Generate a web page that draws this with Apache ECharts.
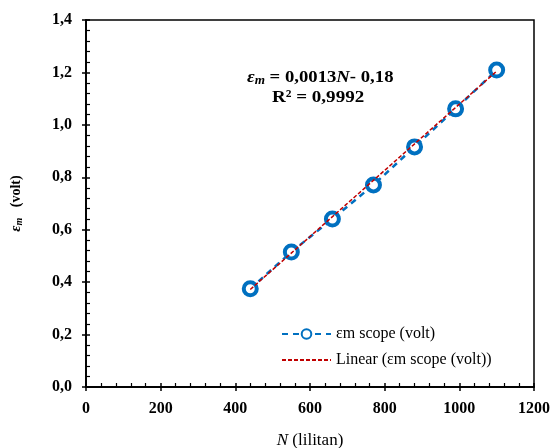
<!DOCTYPE html>
<html>
<head>
<meta charset="utf-8">
<script src="https://cdn.jsdelivr.net/npm/echarts@6/dist/echarts.min.js"></script>
<style>
  html, body { margin: 0; padding: 0; background: #fff; }
  #chart { width: 554px; height: 448px; }
</style>
</head>
<body>
<div id="chart"></div>
<script>
// data
var lilitan = [440, 550, 660, 770, 880, 990, 1100];
var emScope = [0.375, 0.515, 0.641, 0.771, 0.916, 1.061, 1.209];
var trendN = [440, 1100];
var trendV = [0.372, 1.205];
var yTicks = ["0,0", "0,2", "0,4", "0,6", "0,8", "1,0", "1,2", "1,4"];

var serif = "Liberation Serif";
var blue = "#0070c0";
var red = "#c00000";

var chart = echarts.init(document.getElementById("chart"));

var points = lilitan.map(function (n, i) { return [n, emScope[i]]; });
var trend = trendN.map(function (n, i) { return [n, trendV[i]]; });

var baseX = {
  type: "value",
  min: 0,
  max: 1200,
  interval: 200,
  position: "bottom",
  splitLine: { show: false },
  axisLine: { show: true, onZero: false, lineStyle: { color: "#000", width: 1.5 } },
};
var baseY = {
  type: "value",
  min: 0,
  max: 1.4,
  interval: 0.2,
  position: "left",
  splitLine: { show: false },
  axisLine: { show: true, onZero: false, lineStyle: { color: "#000", width: 1.5 } },
};

var option = {
  animation: false,
  grid: {
    left: 86, right: 20, top: 20, bottom: 61,
    outerBoundsMode: "none",
    containLabel: false,
    show: true, borderColor: "#000", borderWidth: 1.5,
  },
  xAxis: [
    Object.assign({}, baseX, {
      axisTick: { show: true, inside: false, length: 4, lineStyle: { color: "#000", width: 1.5 } },
      axisLabel: {
        fontFamily: serif, fontWeight: "bold", fontSize: 16, color: "#000", margin: 14,
        formatter: function (v) { return String(v); },
      },
      name: "{i|N} (lilitan)",
      nameLocation: "middle",
      nameGap: 45,
      nameTextStyle: {
        fontFamily: serif, fontSize: 17, color: "#000",
        rich: { i: { fontFamily: serif, fontStyle: "italic", fontSize: 17, color: "#000" } },
      },
    }),
    Object.assign({}, baseX, {
      axisTick: { show: true, inside: true, length: 4, lineStyle: { color: "#000", width: 1.5 } },
      minorTick: { show: true, splitNumber: 5, length: 4, lineStyle: { color: "#000", width: 1.2 } },
      axisLabel: { show: false },
    }),
  ],
  yAxis: [
    Object.assign({}, baseY, {
      axisTick: { show: true, inside: false, length: 4, lineStyle: { color: "#000", width: 1.5 } },
      axisLabel: {
        fontFamily: serif, fontWeight: "bold", fontSize: 16, color: "#000", margin: 14,
        formatter: function (v) { return yTicks[Math.round(v / 0.2)]; },
      },
      name: "{e|ε}{s|m}   (volt)",
      nameLocation: "middle",
      nameGap: 62,
      nameTextStyle: {
        fontFamily: serif, fontWeight: "bold", fontSize: 14, color: "#000",
        rich: {
          e: { fontFamily: serif, fontStyle: "italic", fontWeight: "bold", fontSize: 15, color: "#000" },
          s: { fontFamily: serif, fontStyle: "italic", fontWeight: "bold", fontSize: 10, color: "#000", padding: [6, 0, 0, 0] },
        },
      },
    }),
    Object.assign({}, baseY, {
      axisTick: { show: true, inside: true, length: 4, lineStyle: { color: "#000", width: 1.5 } },
      minorTick: { show: true, splitNumber: 5, length: 4, lineStyle: { color: "#000", width: 1.2 } },
      axisLabel: { show: false },
    }),
  ],
  legend: {
    orient: "vertical",
    left: 276,
    top: 321,
    itemWidth: 49,
    itemHeight: 12,
    itemGap: 10,
    textStyle: { fontFamily: serif, fontSize: 16, color: "#000" },
    data: [
      { name: "εm scope (volt)" },
      { name: "Linear (εm scope (volt))", itemStyle: { color: "transparent", borderWidth: 0 } },
    ],
  },
  graphic: [
    {
      type: "text",
      x: 247,
      y: 69,
      scaleX: 1.1,
      style: {
        text: "{e|ε}{s|m}{t| = 0,0013}{n|N}{t|- 0,18}",
        rich: {
          e: { fontFamily: serif, fontStyle: "italic", fontWeight: "bold", fontSize: 17, fill: "#000" },
          s: { fontFamily: serif, fontStyle: "italic", fontWeight: "bold", fontSize: 12, fill: "#000", padding: [6, 0, 0, 0] },
          t: { fontFamily: serif, fontWeight: "bold", fontSize: 17, fill: "#000" },
          n: { fontFamily: serif, fontStyle: "italic", fontWeight: "bold", fontSize: 17, fill: "#000" },
        },
      },
    },
    {
      type: "text",
      x: 272,
      y: 89,
      scaleX: 1.12,
      style: { text: "R² = 0,9992", fontFamily: serif, fontWeight: "bold", fontSize: 17, fill: "#000" },
    },
  ],
  series: [
    {
      name: "εm scope (volt)",
      type: "line",
      data: points,
      symbol: "circle",
      symbolSize: 13,
      showAllSymbol: true,
      lineStyle: { color: blue, width: 2.5, type: [6, 5] },
      itemStyle: { color: "#fff", borderColor: blue, borderWidth: 4 },
      z: 2,
    },
    {
      name: "Linear (εm scope (volt))",
      type: "line",
      data: trend,
      symbol: "none",
      lineStyle: { color: red, width: 1.5, type: [4, 2] },
      itemStyle: { color: red },
      z: 3,
    },
  ],
};

chart.setOption(option);
</script>
</body>
</html>
